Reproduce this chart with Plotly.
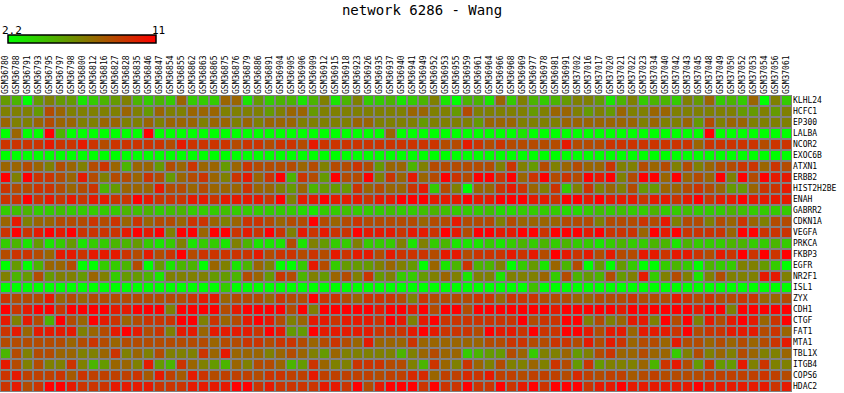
import plotly.graph_objects as go

title_text = "network 6286 - Wang"

samples = ["GSM36780", "GSM36788", "GSM36791", "GSM36793", "GSM36795", "GSM36797", "GSM36798", "GSM36800",
           "GSM36812", "GSM36816", "GSM36827", "GSM36828", "GSM36835", "GSM36846", "GSM36847", "GSM36854",
           "GSM36855", "GSM36862", "GSM36863", "GSM36865", "GSM36875", "GSM36876", "GSM36879", "GSM36886",
           "GSM36891", "GSM36904", "GSM36905", "GSM36906", "GSM36909", "GSM36912", "GSM36915", "GSM36918",
           "GSM36923", "GSM36926", "GSM36935", "GSM36937", "GSM36940", "GSM36941", "GSM36949", "GSM36952",
           "GSM36953", "GSM36955", "GSM36959", "GSM36961", "GSM36964", "GSM36966", "GSM36968", "GSM36969",
           "GSM36977", "GSM36978", "GSM36981", "GSM36991", "GSM37002", "GSM37016", "GSM37017", "GSM37020",
           "GSM37021", "GSM37022", "GSM37023", "GSM37034", "GSM37040", "GSM37042", "GSM37043", "GSM37045",
           "GSM37048", "GSM37049", "GSM37050", "GSM37052", "GSM37053", "GSM37054", "GSM37056", "GSM37061"]

genes = ["KLHL24", "HCFC1", "EP300", "LALBA", "NCOR2", "EXOC6B", "ATXN1", "ERBB2", "HIST2H2BE",
         "ENAH", "GABRR2", "CDKN1A", "VEGFA", "PRKCA", "FKBP3", "EGFR", "NR2F1", "ISL1", "ZYX",
         "CDH1", "CTGF", "FAT1", "MTA1", "TBL1X", "ITGB4", "COPS6", "HDAC2"]

value_min = 2.2
value_max = 11

expression = [
    # KLHL24
    [5.7,4.8,2.2,5.7,6.6,5.7,5.7,3.1,4.0,4.8,5.7,6.6,4.8,4.0,4.8,4.0,7.5,4.0,4.0,4.0,7.5,7.5,3.1,5.7,
     4.0,4.8,4.8,3.1,4.8,6.6,3.1,4.8,6.6,4.0,4.0,4.8,3.1,4.0,4.8,6.6,3.1,2.2,4.8,4.8,3.1,7.5,4.0,6.6,
     4.8,4.0,4.8,5.7,6.6,6.6,5.7,3.1,4.8,6.6,4.0,4.8,4.8,4.0,6.6,5.7,7.5,4.0,4.8,4.0,7.5,2.2,6.6,4.0],
    # HCFC1
    [6.6,6.6,6.6,5.7,8.4,7.5,6.6,6.6,6.6,6.6,6.6,7.5,6.6,5.7,7.5,6.6,6.6,7.5,7.5,7.5,6.6,6.6,6.6,6.6,
     5.7,6.6,7.5,7.5,5.7,6.6,6.6,6.6,6.6,6.6,6.6,6.6,6.6,7.5,7.5,6.6,6.6,5.7,8.4,6.6,6.6,6.6,6.6,6.6,
     5.7,6.6,7.5,7.5,6.6,5.7,6.6,5.7,7.5,6.6,6.6,7.5,7.5,6.6,6.6,6.6,6.6,6.6,6.6,5.7,5.7,6.6,5.7,6.6],
    # EP300
    [7.5,6.6,6.6,7.5,8.4,7.5,7.5,6.6,6.6,7.5,7.5,6.6,6.6,7.5,6.6,7.5,7.5,7.5,6.6,7.5,7.5,6.6,7.5,6.6,
     7.5,7.5,7.5,6.6,6.6,6.6,6.6,6.6,7.5,7.5,6.6,6.6,6.6,6.6,5.7,6.6,6.6,6.6,6.6,5.7,7.5,7.5,7.5,6.6,
     6.6,6.6,6.6,7.5,7.5,7.5,7.5,7.5,7.5,7.5,6.6,7.5,6.6,6.6,7.5,5.7,8.4,6.6,7.5,7.5,6.6,6.6,6.6,6.6],
    # LALBA
    [2.2,7.5,2.2,2.2,11,4.8,2.2,2.2,2.2,2.2,2.2,2.2,2.2,11,2.2,2.2,2.2,2.2,2.2,2.2,2.2,2.2,2.2,2.2,
     2.2,2.2,2.2,2.2,2.2,2.2,2.2,2.2,2.2,2.2,2.2,7.5,2.2,2.2,2.2,2.2,2.2,2.2,2.2,2.2,2.2,2.2,2.2,3.1,
     2.2,2.2,2.2,2.2,2.2,2.2,2.2,2.2,2.2,2.2,2.2,2.2,2.2,2.2,2.2,2.2,11,2.2,2.2,2.2,2.2,2.2,2.2,2.2],
    # NCOR2
    [9.2,9.2,9.2,9.2,10.1,9.2,9.2,10.1,9.2,8.4,9.2,9.2,9.2,9.2,9.2,8.4,10.1,9.2,9.2,9.2,9.2,8.4,9.2,9.2,
     8.4,9.2,9.2,8.4,10.1,9.2,9.2,9.2,9.2,9.2,9.2,9.2,9.2,9.2,9.2,9.2,8.4,8.4,10.1,9.2,8.4,9.2,8.4,8.4,
     8.4,8.4,8.4,10.1,8.4,8.4,8.4,9.2,9.2,9.2,9.2,9.2,9.2,9.2,9.2,7.5,9.2,9.2,9.2,9.2,9.2,8.4,9.2,9.2],
    # EXOC6B
    [2.2,2.2,2.2,2.2,2.2,2.2,2.2,2.2,2.2,2.2,2.2,2.2,2.2,2.2,2.2,2.2,2.2,2.2,2.2,2.2,2.2,2.2,2.2,2.2,
     2.2,2.2,2.2,2.2,2.2,2.2,2.2,2.2,2.2,2.2,2.2,2.2,2.2,2.2,2.2,2.2,2.2,2.2,2.2,2.2,2.2,2.2,2.2,2.2,
     2.2,2.2,2.2,2.2,2.2,2.2,2.2,2.2,2.2,2.2,2.2,2.2,2.2,2.2,2.2,2.2,2.2,2.2,2.2,2.2,2.2,2.2,2.2,2.2],
    # ATXN1
    [7.5,7.5,8.4,7.5,6.6,8.4,7.5,6.6,8.4,9.2,7.5,4.8,7.5,7.5,5.7,8.4,7.5,9.2,7.5,7.5,5.7,7.5,9.2,8.4,
     8.4,8.4,8.4,7.5,8.4,6.6,8.4,8.4,9.2,8.4,5.7,7.5,7.5,4.8,6.6,8.4,8.4,8.4,8.4,8.4,8.4,6.6,9.2,6.6,
     5.7,8.4,6.6,7.5,8.4,7.5,7.5,9.2,6.6,6.6,8.4,7.5,8.4,6.6,8.4,6.6,7.5,8.4,8.4,9.2,9.2,7.5,9.2,8.4],
    # ERBB2
    [11,6.6,11,9.2,9.2,8.4,7.5,10.1,8.4,6.6,8.4,8.4,7.5,9.2,8.4,5.7,7.5,8.4,9.2,7.5,6.6,9.2,10.1,7.5,
     9.2,11,4.8,9.2,8.4,5.7,11,8.4,8.4,11,6.6,9.2,7.5,10.1,7.5,8.4,11,9.2,8.4,11,11,9.2,11,7.5,
     9.2,11,8.4,9.2,8.4,11,10.1,11,6.6,8.4,11,11,7.5,11,7.5,8.4,7.5,11,6.6,11,8.4,11,10.1,10.1],
    # HIST2H2BE
    [9.2,8.4,8.4,9.2,9.2,8.4,7.5,8.4,9.2,4.8,5.7,7.5,7.5,7.5,10.1,8.4,8.4,7.5,8.4,7.5,7.5,7.5,9.2,7.5,
     7.5,6.6,5.7,7.5,4.8,5.7,5.7,5.7,9.2,7.5,8.4,7.5,7.5,9.2,10.1,4.0,8.4,6.6,2.2,7.5,7.5,9.2,10.1,9.2,
     7.5,6.6,9.2,4.0,6.6,9.2,6.6,7.5,6.6,8.4,5.7,5.7,7.5,7.5,8.4,9.2,8.4,7.5,5.7,5.7,7.5,9.2,9.2,10.1],
    # ENAH
    [9.2,9.2,11,9.2,10.1,9.2,10.1,9.2,10.1,10.1,9.2,9.2,11,10.1,9.2,9.2,9.2,10.1,10.1,9.2,10.1,10.1,10.1,10.1,
     9.2,11,6.6,10.1,10.1,11,10.1,10.1,10.1,9.2,10.1,10.1,11,11,11,10.1,10.1,10.1,11,10.1,10.1,11,11,11,
     10.1,10.1,9.2,11,11,10.1,11,10.1,10.1,10.1,9.2,10.1,10.1,9.2,10.1,11,9.2,10.1,10.1,11,10.1,10.1,10.1,10.1],
    # GABRR2
    [4.0,4.4,4.8,4.0,4.0,4.4,4.0,4.0,4.0,4.0,4.0,4.8,4.4,4.8,4.0,4.4,4.8,4.0,4.0,4.0,4.4,4.0,4.0,4.0,
     4.0,4.0,4.0,3.5,3.1,4.0,4.0,4.4,4.0,4.0,4.0,4.4,4.0,4.0,4.4,4.8,4.4,4.0,4.0,4.0,4.4,3.5,3.5,4.0,
     4.0,4.0,4.0,3.5,3.5,4.0,4.4,4.0,4.4,4.0,4.0,4.8,4.0,4.0,4.4,4.0,4.0,4.0,4.8,4.4,4.0,4.0,4.0,4.0],
    # CDKN1A
    [7.5,10.1,6.6,7.5,7.5,8.4,8.4,8.4,9.2,8.4,9.2,7.5,9.2,7.5,8.4,8.4,7.5,9.2,9.2,7.5,6.6,7.5,9.2,9.2,
     8.4,7.5,8.4,8.4,11,8.4,7.5,8.4,9.2,8.4,8.4,8.4,8.4,8.4,7.5,8.4,8.4,10.1,8.4,8.4,8.4,6.6,8.4,7.5,
     7.5,7.5,7.5,8.4,8.4,8.4,6.6,8.4,8.4,8.4,9.2,8.4,10.1,6.6,8.4,8.4,6.6,8.4,7.5,9.2,7.5,6.6,8.4,8.4],
    # VEGFA
    [9.2,11,9.2,10.1,11,10.1,11,9.2,9.2,9.2,9.2,10.1,11,10.1,11,6.6,11,11,7.5,11,11,9.2,10.1,9.2,
     11,9.2,6.6,10.1,9.2,10.1,9.2,9.2,11,10.1,10.1,10.1,9.2,10.1,10.1,9.2,11,10.1,8.4,11,11,10.1,10.1,11,
     11,9.2,11,11,11,10.1,11,9.2,9.2,9.2,7.5,11,10.1,11,9.2,9.2,9.2,9.2,7.5,11,11,9.2,9.2,9.2],
    # PRKCA
    [4.0,4.8,3.1,5.7,3.1,4.0,5.7,3.1,4.0,4.0,4.8,4.8,5.7,4.0,3.1,4.0,6.6,3.1,4.0,4.0,3.1,6.6,4.8,3.1,
     3.1,3.1,8.4,3.1,6.6,5.7,4.0,4.0,6.6,4.0,4.0,4.0,6.6,3.1,6.6,4.0,4.8,3.1,3.1,3.1,4.0,3.1,4.0,4.8,
     4.0,4.8,4.0,4.8,4.0,4.0,3.1,4.0,4.8,4.0,4.0,4.8,4.8,3.1,4.8,4.0,4.0,4.0,4.8,4.8,4.0,4.0,4.8,4.0],
    # FKBP3
    [8.4,9.2,9.2,8.4,7.5,10.1,10.1,9.2,10.1,10.1,10.1,9.2,8.4,10.1,8.4,9.2,11,8.4,9.2,9.2,9.2,9.2,9.2,10.1,
     8.4,9.2,9.2,8.4,9.2,8.4,10.1,9.2,10.1,10.1,8.4,10.1,9.2,9.2,9.2,8.4,10.1,10.1,8.4,9.2,9.2,9.2,10.1,9.2,
     10.1,8.4,11,10.1,9.2,10.1,8.4,10.1,8.4,8.4,10.1,10.1,9.2,10.1,10.1,9.2,8.4,10.1,9.2,11,9.2,11,9.2,11],
    # EGFR
    [2.2,5.7,2.2,4.8,7.5,7.5,8.4,2.2,2.2,4.0,4.0,4.8,8.4,2.2,5.7,3.1,4.8,4.8,2.2,7.5,6.6,3.1,4.8,7.5,
     6.6,2.2,2.2,4.0,10.1,8.4,4.0,5.7,5.7,5.7,6.6,7.5,6.6,5.7,2.2,7.5,3.1,4.8,9.2,4.8,4.8,6.6,2.2,4.0,
     5.7,3.1,7.5,4.8,8.4,2.2,5.7,2.2,5.7,4.0,2.2,2.2,4.0,4.8,4.0,2.2,4.8,4.0,4.0,6.6,6.6,5.7,4.0,2.2],
    # NR2F1
    [6.6,4.8,5.7,8.4,5.7,6.6,6.6,5.7,7.5,6.6,4.0,5.7,5.7,4.8,3.1,6.6,6.6,6.6,6.6,5.7,5.7,4.8,8.4,7.5,
     5.7,9.2,8.4,4.8,6.6,5.7,7.5,8.4,6.6,9.2,5.7,6.6,4.0,4.0,5.7,6.6,7.5,6.6,3.1,6.6,6.6,3.1,6.6,6.6,
     6.6,7.5,4.0,8.4,4.8,5.7,4.8,8.4,5.7,6.6,10.1,4.0,6.6,8.4,6.6,3.1,6.6,8.4,6.6,6.6,6.6,10.1,10.1,6.6],
    # ISL1
    [2.2,2.2,2.2,2.2,2.2,2.2,2.2,2.2,2.2,2.2,2.2,2.2,2.2,2.2,2.2,2.2,2.2,2.2,2.2,2.2,4.0,2.2,2.2,2.2,
     2.2,2.2,2.2,2.2,2.2,2.2,2.2,2.2,2.2,2.2,2.2,2.2,2.2,2.2,2.2,2.2,2.2,2.2,2.2,2.2,2.2,2.2,2.2,2.2,
     4.4,2.2,2.2,2.2,2.2,2.2,2.2,2.2,2.2,2.2,2.2,2.2,2.2,2.2,2.2,2.2,2.2,2.2,2.2,2.2,2.2,2.2,2.2,2.2],
    # ZYX
    [9.2,8.4,8.4,8.4,10.1,7.5,8.4,7.5,8.4,8.4,8.4,8.4,8.4,8.4,8.4,8.4,8.4,9.2,10.1,10.1,7.5,8.4,8.4,8.4,
     7.5,9.2,8.4,8.4,11,9.2,9.2,8.4,7.5,9.2,9.2,9.2,8.4,6.6,9.2,8.4,8.4,8.4,8.4,9.2,9.2,7.5,9.2,9.2,
     9.2,8.4,8.4,8.4,7.5,7.5,8.4,8.4,8.4,9.2,8.4,8.4,8.4,10.1,9.2,8.4,9.2,8.4,8.4,9.2,9.2,7.5,7.5,8.4],
    # CDH1
    [11,9.2,10.1,11,11,9.2,11,11,11,11,10.1,10.1,11,11,11,6.6,11,11,11,11,8.4,10.1,11,11,
     11,11,8.4,11,6.6,11,11,11,11,11,10.1,11,11,10.1,11,8.4,11,11,8.4,11,11,11,11,11,
     11,11,10.1,11,11,11,11,11,10.1,11,11,11,11,11,11,10.1,11,11,6.6,11,11,11,11,11],
    # CTGF
    [10.1,6.6,10.1,8.4,4.8,11,8.4,7.5,11,10.1,9.2,7.5,8.4,9.2,9.2,9.2,11,11,6.6,9.2,7.5,8.4,10.1,11,
     10.1,8.4,6.6,7.5,10.1,10.1,9.2,10.1,10.1,10.1,9.2,11,10.1,6.6,10.1,11,9.2,9.2,9.2,9.2,9.2,9.2,9.2,11,
     8.4,9.2,9.2,11,11,6.6,8.4,6.6,7.5,10.1,10.1,6.6,11,8.4,11,6.6,10.1,8.4,10.1,11,10.1,7.5,9.2,11],
    # FAT1
    [9.2,10.1,7.5,10.1,10.1,10.1,10.1,6.6,7.5,8.4,10.1,11,10.1,8.4,9.2,6.6,10.1,10.1,7.5,10.1,10.1,10.1,10.1,9.2,
     11,10.1,5.7,5.7,11,10.1,10.1,10.1,10.1,10.1,9.2,9.2,9.2,10.1,11,10.1,9.2,9.2,9.2,8.4,11,10.1,10.1,9.2,
     11,9.2,9.2,11,11,10.1,8.4,10.1,10.1,7.5,10.1,10.1,10.1,9.2,11,8.4,9.2,9.2,10.1,10.1,10.1,8.4,9.2,7.5],
    # MTA1
    [8.4,8.4,8.4,8.4,8.4,8.4,7.5,8.4,9.2,8.4,7.5,8.4,8.4,8.4,8.4,8.4,8.4,8.4,8.4,7.5,8.4,8.4,9.2,9.2,
     8.4,9.2,9.2,8.4,7.5,8.4,9.2,8.4,7.5,10.1,7.5,7.5,7.5,9.2,7.5,7.5,7.5,7.5,7.5,7.5,8.4,8.4,9.2,9.2,
     8.4,8.4,9.2,9.2,8.4,10.1,8.4,10.1,9.2,7.5,8.4,8.4,7.5,10.1,8.4,8.4,7.5,8.4,7.5,8.4,7.5,8.4,9.2,10.1],
    # TBL1X
    [4.8,8.4,6.6,8.4,8.4,7.5,7.5,6.6,6.6,7.5,9.2,6.6,7.5,6.6,8.4,6.6,6.6,6.6,9.2,7.5,10.1,7.5,7.5,7.5,
     6.6,7.5,8.4,7.5,6.6,5.7,7.5,6.6,6.6,6.6,6.6,6.6,4.8,6.6,7.5,8.4,7.5,7.5,4.0,4.8,5.7,5.7,8.4,7.5,
     4.0,6.6,6.6,7.5,5.7,6.6,8.4,9.2,7.5,7.5,8.4,7.5,7.5,4.0,6.6,8.4,6.6,7.5,6.6,8.4,7.5,6.6,6.6,7.5],
    # ITGB4
    [10.1,8.4,6.6,8.4,6.6,6.6,9.2,6.6,4.8,5.7,7.5,7.5,6.6,10.1,5.7,4.8,9.2,7.5,6.6,5.7,4.8,7.5,6.6,8.4,
     8.4,7.5,4.8,5.7,9.2,7.5,6.6,6.6,9.2,9.2,9.2,8.4,8.4,6.6,4.8,9.2,7.5,6.6,9.2,7.5,6.6,8.4,6.6,6.6,
     7.5,6.6,9.2,8.4,5.7,9.2,5.7,6.6,6.6,6.6,7.5,4.8,9.2,10.1,8.4,5.7,9.2,5.7,5.7,10.1,6.6,9.2,6.6,6.6],
    # COPS6
    [9.2,10.1,8.8,8.8,8.8,9.2,7.9,9.2,8.8,8.8,8.8,8.8,9.2,7.9,10.1,8.8,7.9,10.1,9.2,8.4,8.8,8.8,8.8,8.4,
     9.2,9.2,8.8,8.8,10.1,8.8,8.8,8.8,8.8,8.8,8.4,8.8,8.8,9.6,9.6,7.5,8.8,8.8,9.6,9.2,10.1,8.8,8.8,8.4,
     8.8,8.8,8.8,8.4,9.6,8.8,8.4,8.8,8.8,7.9,8.4,8.8,8.4,8.4,8.4,8.4,8.8,8.8,8.8,8.8,8.8,9.2,8.8,8.4],
    # HDAC2
    [9.2,10.1,8.4,9.2,11,11,10.1,9.2,9.2,9.2,10.1,10.1,10.1,10.1,9.2,9.2,9.2,10.1,10.1,10.1,10.1,11,11,9.2,
     10.1,9.2,9.2,9.2,9.2,10.1,10.1,9.2,11,8.4,10.1,11,11,11,9.2,11,9.2,9.2,11,9.2,9.2,11,9.2,10.1,
     11,9.2,11,11,11,9.2,10.1,10.1,11,10.1,10.1,10.1,10.1,10.1,10.1,11,10.1,10.1,10.1,10.1,10.1,10.1,9.2,10.1],
]

assert len(expression) == len(genes), len(expression)
for i, row in enumerate(expression):
    assert len(row) == len(samples), (genes[i], len(row))

W, H = 844, 393
ML, MR, MT, MB = 0, 52, 95, 1
plot_w = W - ML - MR
plot_h = H - MT - MB

mono = "DejaVu Sans Mono"

fig = go.Figure(
    go.Heatmap(
        z=expression,
        x=samples,
        y=genes,
        zmin=value_min,
        zmax=value_max,
        colorscale=[[0, "rgb(0,255,0)"], [1, "rgb(255,0,0)"]],
        xgap=2,
        ygap=2,
        colorbar=dict(
            orientation="h",
            xref="container", yref="container",
            x=8 / W, xanchor="left",
            y=1 - 35 / H, yanchor="top",
            len=148, lenmode="pixels",
            thickness=8,
            xpad=0, ypad=0,
            outlinewidth=1.5, outlinecolor="black",
            showticklabels=False, ticks="",
        ),
    )
)

def py_to_paper_y(py):
    return (H - MB - py) / plot_h

fig.add_annotation(text=f"{value_min}", xref="paper", yref="paper",
                   x=0 / plot_w, y=py_to_paper_y(30), xanchor="left", yanchor="middle",
                   showarrow=False, font=dict(family=mono, size=11, color="black"))
fig.add_annotation(text=f"{value_max:g}", xref="paper", yref="paper",
                   x=158 / plot_w, y=py_to_paper_y(30), xanchor="center", yanchor="middle",
                   showarrow=False, font=dict(family=mono, size=11, color="black"))

fig.update_layout(
    width=W, height=H,
    margin=dict(l=ML, r=MR, t=MT, b=MB, pad=0),
    paper_bgcolor="white",
    plot_bgcolor="#808080",
    title=dict(text=title_text, x=0.5, xref="container", xanchor="center",
               y=1 - 10 / H, yref="container", yanchor="middle",
               font=dict(family=mono, size=14, color="black")),
    xaxis=dict(side="top", tickangle=-90, tickmode="array", tickvals=samples, ticktext=samples,
               tickfont=dict(family=mono, size=8, color="black"), ticks="", ticklen=0,
               showgrid=False, zeroline=False, showline=False),
    yaxis=dict(side="right", autorange="reversed", tickmode="array", tickvals=genes, ticktext=genes,
               tickfont=dict(family=mono, size=8, color="black"), ticks="", ticklen=0,
               showgrid=False, zeroline=False, showline=False),
    showlegend=False,
)

fig.write_html("out.html")
